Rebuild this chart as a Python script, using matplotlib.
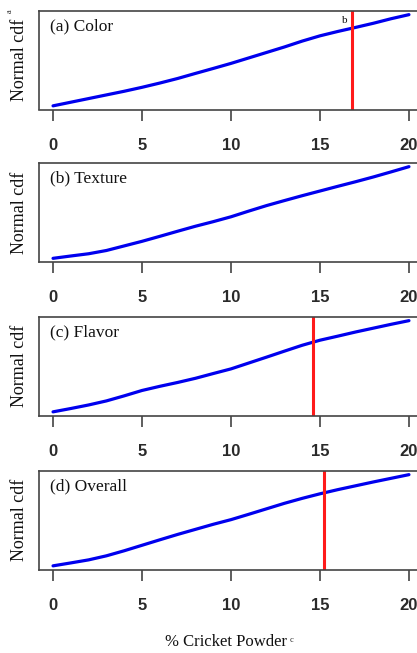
import matplotlib
matplotlib.use("Agg")
import matplotlib.pyplot as plt

# ---- data ----
pct = list(range(0, 21))
cdf_color   = [0.050, 0.086, 0.122, 0.158, 0.194, 0.233, 0.275, 0.320, 0.370, 0.419, 0.469,
               0.523, 0.577, 0.631, 0.689, 0.741, 0.784, 0.824, 0.865, 0.910, 0.950]
cdf_texture = [0.050, 0.073, 0.095, 0.127, 0.172, 0.217, 0.266, 0.316, 0.365, 0.410, 0.458,
               0.514, 0.568, 0.617, 0.665, 0.711, 0.757, 0.802, 0.849, 0.899, 0.950]
cdf_flavor  = [0.050, 0.083, 0.118, 0.158, 0.208, 0.261, 0.302, 0.340, 0.381, 0.428, 0.474,
               0.532, 0.590, 0.649, 0.707, 0.757, 0.797, 0.838, 0.876, 0.914, 0.950]
cdf_overall = [0.050, 0.079, 0.109, 0.149, 0.199, 0.253, 0.307, 0.360, 0.410, 0.460, 0.506,
               0.559, 0.613, 0.667, 0.716, 0.761, 0.802, 0.840, 0.878, 0.914, 0.950]
series = [cdf_color, cdf_texture, cdf_flavor, cdf_overall]
panel_labels = ["(a) Color", "(b) Texture", "(c) Flavor", "(d) Overall"]
cutoffs = [16.8, None, 14.6, 15.2]
xticks = [0, 5, 10, 15, 20]

W, H = 417, 653
fig = plt.figure(figsize=(W / 100, H / 100), dpi=100)

serif = ["Liberation Serif", "DejaVu Serif"]
sans = ["Liberation Sans", "DejaVu Sans"]

left_px, right_px = 38.8, 423.2
boxes = [(11, 109.5), (163, 262), (317, 415.5), (471, 569.5)]

for i, (top, bot) in enumerate(boxes):
    ax = fig.add_axes([left_px / W, 1 - bot / H, (right_px - left_px) / W, (bot - top) / H])
    ax.plot(pct, series[i], color="#0000ee", lw=2.3, solid_capstyle="round",
            solid_joinstyle="round")
    if cutoffs[i] is not None:
        ax.axvline(cutoffs[i], color="#ff1a1a", lw=2.2)
    ax.set_xlim(-0.8, 20.8)
    ax.margins(y=0.04)
    ax.set_yticks([])
    ax.set_xticks(xticks)
    ax.set_xticklabels([str(t) for t in xticks], fontfamily=sans, fontweight="bold",
                       fontsize=12, color="#2a2a2a")
    ax.tick_params(axis="x", length=8, width=1.1, color="#333333", pad=12.5)
    for s in ax.spines.values():
        s.set_color("#444444")
        s.set_linewidth(1.2)
    ax.text(0.03, 0.84, panel_labels[i], transform=ax.transAxes, fontfamily=serif,
            fontsize=12.5, va="center", ha="left", color="#111111")
    ax.set_ylabel("Normal cdf", fontfamily=serif, fontsize=13, color="#111111")
    ax.yaxis.set_label_coords(-0.027, 0.5)
    if i == 0:
        ax.text(cutoffs[0] - 0.25, 0.9, "b", transform=ax.get_xaxis_transform(),
                fontfamily=serif, fontsize=8, ha="right", va="center", color="#111111")

# superscript "a" on first y label
fig.text(10 / W, 1 - 11 / H, "a", rotation=90, fontfamily=serif, fontsize=6,
         ha="center", va="center", color="#222222")
# x label with superscript c
fig.text(226 / W, 1 - 642.5 / H, "% Cricket Powder", fontfamily=serif, fontsize=12,
         ha="center", va="center", color="#111111")
fig.text(291 / W, 1 - 640 / H, "c", fontfamily=serif, fontsize=6,
         ha="center", va="center", color="#222222")

fig.savefig("out.png", dpi=100)
